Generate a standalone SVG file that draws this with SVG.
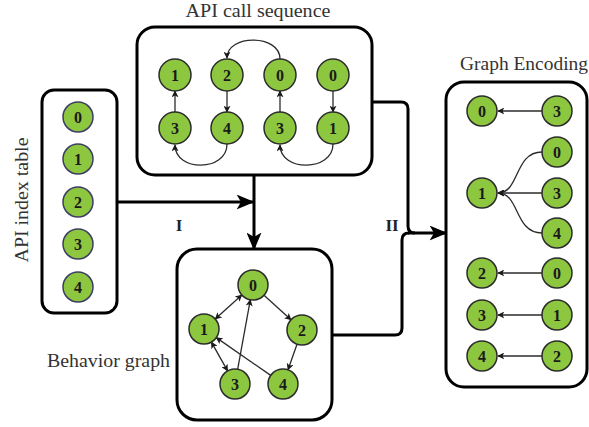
<svg xmlns="http://www.w3.org/2000/svg" width="589" height="427" viewBox="0 0 589 427">
  <defs>
    <style>
      text { font-family: 'Liberation Serif', 'DejaVu Serif', serif; }
      .box { fill: #ffffff; stroke: #000000; stroke-width: 3; }
      .node circle { fill: #8dc63f; stroke: #2b2b2b; stroke-width: 1.5; }
      .idx circle { stroke: #3c3c64; }
      .node text { font-weight: bold; font-size: 16px; fill: #1a1a1a; text-anchor: middle; dominant-baseline: central; }
      .title { font-size: 18px; fill: #333333; }
      .roman { font-weight: bold; font-size: 17px; fill: #222222; text-anchor: middle; }
      .edge { fill: none; stroke: #2b2b2b; stroke-width: 1.3; marker-end: url(#tip); }
      .edge2 { marker-start: url(#tip); }
      .flow { fill: none; stroke: #000000; stroke-width: 3; }
      .flowArrow { marker-end: url(#bigTip); }
    </style>
    <marker id="tip" viewBox="0 0 10 10" refX="9" refY="5" markerWidth="7" markerHeight="7" markerUnits="userSpaceOnUse" orient="auto-start-reverse">
      <path d="M0,0 L10,5 L0,10 L2.5,5 z" fill="#1a1a1a"/>
    </marker>
    <marker id="bigTip" viewBox="0 0 12 10" refX="11" refY="5" markerWidth="18" markerHeight="15" markerUnits="userSpaceOnUse" orient="auto">
      <path d="M0,0 L12,5 L0,10 L3,5 z" fill="#000000"/>
    </marker>
  </defs>

  <rect width="589" height="427" fill="#ffffff"/>

  <!-- titles -->
  <text class="title" font-family="Liberation Serif, serif" x="258" y="17" text-anchor="middle" textLength="145" lengthAdjust="spacingAndGlyphs">API call sequence</text>
  <text class="title" font-family="Liberation Serif, serif" x="460" y="70" textLength="128" lengthAdjust="spacingAndGlyphs">Graph Encoding</text>
  <text class="title" font-family="Liberation Serif, serif" x="170" y="367" text-anchor="end" textLength="123" lengthAdjust="spacingAndGlyphs">Behavior graph</text>
  <text class="title" font-family="Liberation Serif, serif" transform="translate(28,200) rotate(-90)" text-anchor="middle" textLength="125" lengthAdjust="spacingAndGlyphs">API index table</text>
  <text class="roman" font-family="Liberation Serif, serif" x="179" y="231">I</text>
  <text class="roman" font-family="Liberation Serif, serif" x="392" y="231">II</text>

  <!-- flow connectors between panels -->
  <g id="connectors">
    <path class="flow flowArrow" d="M117,202 H253"/>
    <path class="flow flowArrow" d="M254,175 V249"/>
    <path class="flow" d="M372,102 H401 Q408,102 408,109 V226 Q408,233 415,233"/>
    <path class="flow" d="M332,335 H395 Q402,335 402,328 V240 Q402,233 409,233"/>
    <path class="flow flowArrow" d="M408,233 H446"/>
  </g>

  <!-- API index table -->
  <g id="api-index-table">
    <rect class="box" x="42" y="90" width="75" height="223" rx="12"/>
    <g class="node idx"><circle cx="78" cy="117" r="15"/><text x="78" y="117">0</text></g>
    <g class="node idx"><circle cx="78" cy="159" r="15"/><text x="78" y="159">1</text></g>
    <g class="node idx"><circle cx="78" cy="202" r="15"/><text x="78" y="202">2</text></g>
    <g class="node idx"><circle cx="78" cy="244" r="15"/><text x="78" y="244">3</text></g>
    <g class="node idx"><circle cx="78" cy="287" r="15"/><text x="78" y="287">4</text></g>
  </g>

  <!-- API call sequence -->
  <g id="api-call-sequence">
    <rect class="box" x="137" y="27" width="235" height="148" rx="18"/>
    <path class="edge" d="M175,112 V91"/>
    <path class="edge" d="M227,91 V112"/>
    <path class="edge" d="M280,112 V91"/>
    <path class="edge" d="M333,91 V112"/>
    <path class="edge" d="M280,59 C280,34 227,34 227,58"/>
    <path class="edge" d="M227,144 C227,172 175,172 175,145"/>
    <path class="edge" d="M333,144 C333,172 280,172 280,145"/>
    <g class="node"><circle cx="175" cy="75" r="16"/><text x="175" y="75">1</text></g>
    <g class="node"><circle cx="227" cy="75" r="16"/><text x="227" y="75">2</text></g>
    <g class="node"><circle cx="280" cy="75" r="16"/><text x="280" y="75">0</text></g>
    <g class="node"><circle cx="333" cy="75" r="16"/><text x="333" y="75">0</text></g>
    <g class="node"><circle cx="175" cy="128" r="16"/><text x="175" y="128">3</text></g>
    <g class="node"><circle cx="227" cy="128" r="16"/><text x="227" y="128">4</text></g>
    <g class="node"><circle cx="280" cy="128" r="16"/><text x="280" y="128">3</text></g>
    <g class="node"><circle cx="333" cy="128" r="16"/><text x="333" y="128">1</text></g>
  </g>

  <!-- Behavior graph -->
  <g id="behavior-graph">
    <rect class="box" x="177" y="249" width="155" height="171" rx="20"/>
    <path class="edge edge2" d="M241.8,295 L215.2,319"/>
    <path class="edge" d="M264,295.2 L291,319.8"/>
    <path class="edge" d="M297,344.2 L288,369.8"/>
    <path class="edge" d="M237.7,369.2 L250.3,299.8"/>
    <path class="edge" d="M270.7,375.4 L216.3,337.6"/>
    <path class="edge edge2" d="M211.4,342.1 L227.6,370.9"/>
    <g class="node"><circle cx="253" cy="285" r="15"/><text x="253" y="285">0</text></g>
    <g class="node"><circle cx="204" cy="329" r="15"/><text x="204" y="329">1</text></g>
    <g class="node"><circle cx="302" cy="330" r="15"/><text x="302" y="330">2</text></g>
    <g class="node"><circle cx="235" cy="384" r="15"/><text x="235" y="384">3</text></g>
    <g class="node"><circle cx="283" cy="384" r="15"/><text x="283" y="384">4</text></g>
  </g>

  <!-- Graph encoding -->
  <g id="graph-encoding">
    <rect class="box" x="446" y="82" width="141" height="305" rx="18"/>
    <path class="edge" d="M542,111 H498"/>
    <path class="edge" d="M542,152 C514,152 520,193 498,193"/>
    <path class="edge" d="M542,193 H498"/>
    <path class="edge" d="M542,233 C514,233 520,193 498,193"/>
    <path class="edge" d="M542,273 H498"/>
    <path class="edge" d="M542,315 H498"/>
    <path class="edge" d="M542,356 H498"/>
    <g class="node"><circle cx="482" cy="111" r="15"/><text x="482" y="111">0</text></g>
    <g class="node"><circle cx="557" cy="111" r="15"/><text x="557" y="111">3</text></g>
    <g class="node"><circle cx="557" cy="152" r="15"/><text x="557" y="152">0</text></g>
    <g class="node"><circle cx="482" cy="193" r="15"/><text x="482" y="193">1</text></g>
    <g class="node"><circle cx="557" cy="193" r="15"/><text x="557" y="193">3</text></g>
    <g class="node"><circle cx="557" cy="233" r="15"/><text x="557" y="233">4</text></g>
    <g class="node"><circle cx="482" cy="273" r="15"/><text x="482" y="273">2</text></g>
    <g class="node"><circle cx="557" cy="273" r="15"/><text x="557" y="273">0</text></g>
    <g class="node"><circle cx="482" cy="315" r="15"/><text x="482" y="315">3</text></g>
    <g class="node"><circle cx="557" cy="315" r="15"/><text x="557" y="315">1</text></g>
    <g class="node"><circle cx="482" cy="356" r="15"/><text x="482" y="356">4</text></g>
    <g class="node"><circle cx="557" cy="356" r="15"/><text x="557" y="356">2</text></g>
  </g>
</svg>
